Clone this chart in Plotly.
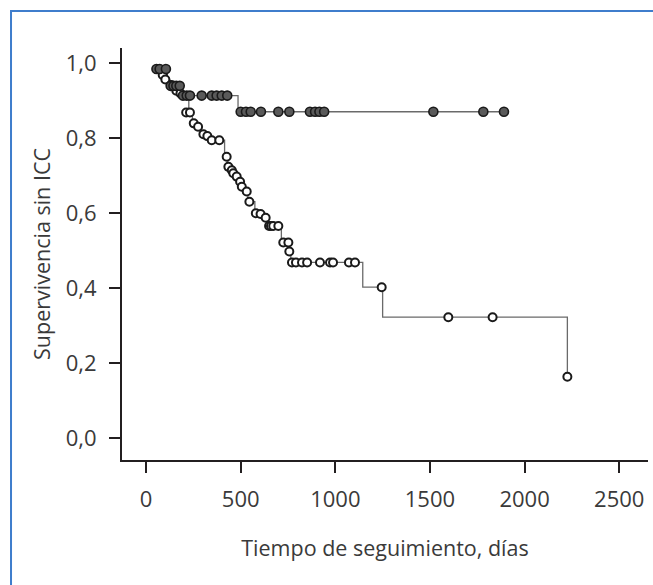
import plotly.graph_objects as go

# ---- data ----
# Group A (dark markers): step curve knots (time, survival after that time)
a_step_days = [45, 112, 190, 486, 1891]
a_step_surv = [0.985, 0.940, 0.914, 0.871, 0.871]
# censored marks of group A
a_cens_days = [55, 72, 105, 130, 145, 160, 178, 195, 215, 232, 294, 347, 373, 400, 429,
               500, 528, 553, 607, 699, 757, 866, 893, 916, 941, 1518, 1782, 1891]
a_cens_surv = [0.985, 0.985, 0.985, 0.940, 0.940, 0.940, 0.940, 0.914, 0.914, 0.914, 0.914,
               0.914, 0.914, 0.914, 0.914, 0.871, 0.871, 0.871, 0.871, 0.871, 0.871, 0.871,
               0.871, 0.871, 0.871, 0.871, 0.871, 0.871]

# Group B (white markers)
b_step_days = [45, 80, 98, 125, 150, 175, 205, 226, 245, 265, 285, 318, 340, 415, 432, 445,
               458, 470, 490, 502, 520, 538, 575, 600, 625, 640, 715, 755, 765, 1145, 1250, 2226]
b_step_surv = [0.985, 0.969, 0.957, 0.942, 0.927, 0.920, 0.905, 0.869, 0.840, 0.831, 0.811,
               0.806, 0.795, 0.751, 0.724, 0.715, 0.707, 0.698, 0.684, 0.671, 0.658, 0.631,
               0.600, 0.598, 0.588, 0.566, 0.522, 0.498, 0.469, 0.403, 0.323, 0.164]
b_cens_days = [60, 88, 102, 132, 160, 182, 212, 232, 252, 275, 303, 324, 347, 387, 426, 435,
               453, 461, 479, 497, 506, 532, 546, 580, 605, 632, 650, 660, 672, 699, 725, 752,
               757, 771, 792, 824, 851, 919, 972, 988, 1072, 1104, 1245, 1597, 1831, 2226]
b_cens_surv = [0.985, 0.969, 0.957, 0.942, 0.927, 0.920, 0.869, 0.869, 0.840, 0.831, 0.811,
               0.806, 0.795, 0.795, 0.751, 0.724, 0.715, 0.707, 0.698, 0.684, 0.671, 0.658,
               0.631, 0.600, 0.598, 0.588, 0.566, 0.566, 0.566, 0.566, 0.522, 0.522, 0.498,
               0.469, 0.469, 0.469, 0.469, 0.469, 0.469, 0.469, 0.469, 0.469, 0.403, 0.323,
               0.323, 0.164]

x_tick_vals = [0, 500, 1000, 1500, 2000, 2500]
x_tick_labels = ["0", "500", "1000", "1500", "2000", "2500"]
y_tick_vals = [0.0, 0.2, 0.4, 0.6, 0.8, 1.0]
y_tick_labels = ["0,0", "0,2", "0,4", "0,6", "0,8", "1,0"]

x_title = "Tiempo de seguimiento, días"
y_title = "Supervivencia sin ICC"

ink = "#231f20"
text_col = "#3a3a3a"
line_gray = "#6a6a6a"
font_family = "Open Sans, Noto Sans, sans-serif"

fig = go.Figure()

# step lines
fig.add_trace(go.Scatter(x=b_step_days, y=b_step_surv, mode="lines", line_shape="hv",
                         line=dict(color=line_gray, width=1.3), hoverinfo="skip",
                         showlegend=False))
fig.add_trace(go.Scatter(x=a_step_days, y=a_step_surv, mode="lines", line_shape="hv",
                         line=dict(color=line_gray, width=1.3), hoverinfo="skip",
                         showlegend=False))
# censor markers
fig.add_trace(go.Scatter(x=b_cens_days, y=b_cens_surv, mode="markers",
                         marker=dict(size=8, color="white", line=dict(color="#1a1a1a", width=2)),
                         showlegend=False))
fig.add_trace(go.Scatter(x=a_cens_days, y=a_cens_surv, mode="markers",
                         marker=dict(size=9, color="#5a5a5a", line=dict(color="#1a1a1a", width=1.6)),
                         showlegend=False))

# blue frame around the figure
fig.add_shape(type="rect", xref="paper", yref="paper",
              x0=-0.211, x1=1.05, y0=-0.40, y1=1.0898,
              line=dict(color="#3f7dcc", width=2), fillcolor="rgba(0,0,0,0)", layer="below")

fig.update_layout(
    width=653, height=585,
    margin=dict(l=122, r=5, t=48, b=125),
    paper_bgcolor="white", plot_bgcolor="white",
    font=dict(family=font_family, size=22, color=text_col),
    showlegend=False,
)
fig.update_xaxes(
    range=[-127, 2652], tickvals=x_tick_vals, ticktext=x_tick_labels,
    showgrid=False, zeroline=False, showline=True, linecolor=ink, linewidth=2,
    ticks="outside", ticklen=11, tickwidth=2, tickcolor=ink,
    ticklabelstandoff=8,
    tickfont=dict(size=22, color=text_col),
    title=dict(text=x_title, font=dict(size=21.5, color=text_col), standoff=29),
)
fig.update_yaxes(
    range=[-0.058, 1.041], tickvals=y_tick_vals, ticktext=y_tick_labels,
    showgrid=False, zeroline=False, showline=True, linecolor=ink, linewidth=2,
    ticks="outside", ticklen=11, tickwidth=2, tickcolor=ink,
    ticklabelstandoff=8,
    tickfont=dict(size=22, color=text_col),
    title=dict(text=y_title, font=dict(size=21.5, color=text_col), standoff=9),
)

fig.write_html("out.html", config={"displayModeBar": False},
               post_script="document.body.style.margin='0px';")
